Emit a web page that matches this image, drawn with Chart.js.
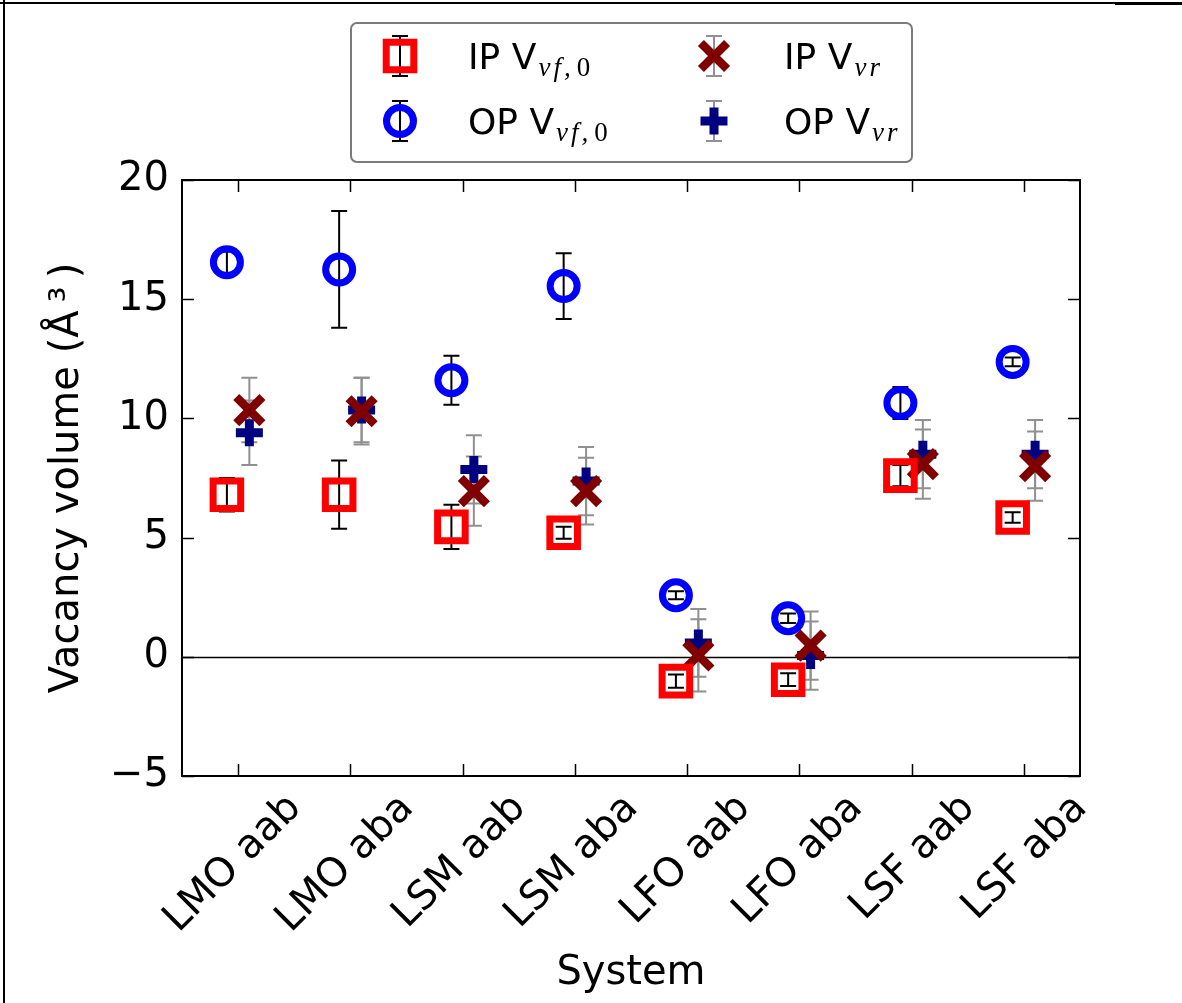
<!DOCTYPE html>
<html>
<head>
<meta charset="utf-8">
<title>Vacancy volume by system</title>
<script src="https://cdn.jsdelivr.net/npm/chart.js@4.4.1/dist/chart.umd.min.js"></script>
<style>
  html, body { margin: 0; padding: 0; background: #ffffff; }
  #wrap { width: 1182px; height: 1003px; position: relative; }
  canvas { display: block; }
</style>
</head>
<body>
<div id="wrap"><canvas id="c" width="1182" height="1003"></canvas></div>
<script>
// ---- data -------------------------------------------------------------
const categories = ['LMO aab', 'LMO aba', 'LSM aab', 'LSM aba', 'LFO aab', 'LFO aba', 'LSF aab', 'LSF aba'];

// in-plane / out-of-plane vacancy formation volume V_vf,0
const ipVf0    = [6.8, 6.8, 5.45, 5.2, -1.02, -0.96, 7.6, 5.84];
const ipVf0Err = [0.7, 1.43, 0.93, 0.25, 0.28, 0.27, 0.45, 0.22];
const opVf0    = [16.55, 16.25, 11.6, 15.55, 2.58, 1.62, 10.65, 12.37];
const opVf0Err = [0.45, 2.45, 1.03, 1.38, 0.17, 0.2, 0.67, 0.18];

// in-plane / out-of-plane relaxation volume V_vr
const ipVvr    = [10.35, 10.3, 6.95, 6.95, 0.06, 0.47, 8.08, 8.0];
const ipVvrErr = [1.35, 1.4, 1.45, 1.4, 1.52, 1.43, 1.45, 1.45];
const opVvr    = [9.4, 10.35, 7.86, 7.37, 0.58, 0.05, 8.5, 8.5];
const opVvrErr = [1.35, 1.35, 1.43, 1.43, 1.42, 1.43, 1.43, 1.43];

const yTicks = [-5, 0, 5, 10, 15, 20];

const seriesMain = ['IP V', 'OP V', 'IP V', 'OP V'];
const seriesSub  = ['vf,0', 'vf,0', 'vr', 'vr'];

// ---- drawing helpers ---------------------------------------------------
const FONT = '"DejaVu Sans", "Liberation Sans", sans-serif';
const errors = [ipVf0Err, opVf0Err, ipVvrErr, opVvrErr];
const errorColors = ['#000000', '#000000', '#909090', '#909090'];
const shift = [-0.1, -0.1, 0.1, 0.1];

function pts(values, k) {
  return values.map((v, i) => ({ x: i + shift[k], y: v }));
}

const styles = [
  { pointStyle: 'rect',     radius: 19.5, width: 7, color: '#ff0000' },
  { pointStyle: 'circle',   radius: 13.5, width: 7, color: '#0000ff' },
  { pointStyle: 'crossRot', radius: 18.5, width: 8.5, color: '#800000' },
  { pointStyle: 'cross',    radius: 13.5, width: 9, color: '#000080' }
];

function errorBar(ctx, px, yTop, yBot, color, capHalf) {
  ctx.save();
  ctx.strokeStyle = color;
  ctx.lineWidth = 2;
  ctx.beginPath();
  ctx.moveTo(px, yTop); ctx.lineTo(px, yBot);
  ctx.moveTo(px - capHalf, yTop); ctx.lineTo(px + capHalf, yTop);
  ctx.moveTo(px - capHalf, yBot); ctx.lineTo(px + capHalf, yBot);
  ctx.stroke();
  ctx.restore();
}

// error bars and the y = 0 reference line sit under the markers
const underlay = {
  id: 'underlay',
  beforeDatasetsDraw(chart) {
    const { ctx, chartArea: a, scales: { x, y } } = chart;
    ctx.save();
    ctx.strokeStyle = '#000';
    ctx.lineWidth = 1.5;
    const y0 = Math.round(y.getPixelForValue(0)) + 0.5;
    ctx.beginPath(); ctx.moveTo(a.left, y0); ctx.lineTo(a.right, y0); ctx.stroke();
    ctx.restore();
    chart.data.datasets.forEach((ds, k) => {
      ds.data.forEach((p, i) => {
        const e = errors[k][i];
        errorBar(ctx, x.getPixelForValue(p.x), y.getPixelForValue(p.y + e),
                 y.getPixelForValue(p.y - e), errorColors[k], 8);
      });
    });
  }
};

// axes box with inward ticks on all four sides
const frame = {
  id: 'frame',
  afterDatasetsDraw(chart) {
    const { ctx, chartArea: a, scales: { x, y } } = chart;
    ctx.save();
    ctx.strokeStyle = '#000';
    ctx.lineWidth = 2;
    ctx.strokeRect(a.left, a.top, a.right - a.left, a.bottom - a.top);
    ctx.lineWidth = 1.5;
    const L = 12;
    ctx.beginPath();
    categories.forEach((c, i) => {
      const px = Math.round(x.getPixelForValue(i)) + 0.5;
      ctx.moveTo(px, a.bottom); ctx.lineTo(px, a.bottom - L);
      ctx.moveTo(px, a.top); ctx.lineTo(px, a.top + L);
    });
    yTicks.forEach(v => {
      const py = Math.round(y.getPixelForValue(v)) + 0.5;
      ctx.moveTo(a.left, py); ctx.lineTo(a.left + L, py);
      ctx.moveTo(a.right, py); ctx.lineTo(a.right - L, py);
    });
    ctx.stroke();
    ctx.restore();
  }
};

// legend: marker with its error bar, label with math subscript
const legend = {
  id: 'mplLegend',
  afterDraw(chart) {
    const ctx = chart.ctx;
    ctx.save();
    // page edge lines
    ctx.strokeStyle = '#000';
    ctx.lineWidth = 2;
    ctx.beginPath();
    ctx.moveTo(0, 3); ctx.lineTo(1182, 3);
    ctx.moveTo(4, 0); ctx.lineTo(4, 1003);
    ctx.stroke();
    ctx.lineWidth = 3;
    ctx.beginPath(); ctx.moveTo(1115, 3.5); ctx.lineTo(1182, 3.5); ctx.stroke();

    // legend frame
    const bx = 351, by = 23, bw = 561, bh = 139, r = 6;
    ctx.beginPath();
    ctx.moveTo(bx + r, by);
    ctx.arcTo(bx + bw, by, bx + bw, by + bh, r);
    ctx.arcTo(bx + bw, by + bh, bx, by + bh, r);
    ctx.arcTo(bx, by + bh, bx, by, r);
    ctx.arcTo(bx, by, bx + bw, by, r);
    ctx.closePath();
    ctx.fillStyle = '#ffffff';
    ctx.fill();
    ctx.strokeStyle = '#7a7a7a';
    ctx.lineWidth = 2;
    ctx.stroke();

    const slots = [
      { mx: 400, my: 56, tx: 468 },
      { mx: 400, my: 121, tx: 468 },
      { mx: 714, my: 56, tx: 784 },
      { mx: 714, my: 121, tx: 784 }
    ];
    slots.forEach((s, k) => {
      errorBar(ctx, s.mx, s.my - 20, s.my + 20, errorColors[k], 8);
      const st = styles[k];
      ctx.save();
      ctx.strokeStyle = st.color;
      ctx.fillStyle = 'rgba(0,0,0,0)';
      ctx.lineWidth = st.width;
      Chart.helpers.drawPoint(ctx, { pointStyle: st.pointStyle, radius: st.radius, rotation: 0, borderWidth: st.width }, s.mx, s.my);
      ctx.restore();

      ctx.fillStyle = '#000';
      ctx.textBaseline = 'alphabetic';
      ctx.textAlign = 'left';
      ctx.font = '36px ' + FONT;
      const base = s.my + 13;
      ctx.fillText(seriesMain[k], s.tx, base);
      let sx = s.tx + ctx.measureText(seriesMain[k]).width + 2;
      const sub = seriesSub[k];
      const sb = base + 7;
      // italic letters, upright digits
      for (const ch of sub) {
        if (/[0-9]/.test(ch)) ctx.font = '27px "Liberation Serif", serif';
        else ctx.font = 'italic 27px "Liberation Serif", serif';
        ctx.fillText(ch, sx, sb);
        sx += ctx.measureText(ch).width + (ch === ',' ? 6 : 3);
      }
    });
    ctx.restore();
  }
};

const datasets = [ipVf0, opVf0, ipVvr, opVvr].map((vals, k) => ({
  label: seriesMain[k] + seriesSub[k],
  data: pts(vals, k),
  pointStyle: styles[k].pointStyle,
  pointRadius: styles[k].radius,
  pointHoverRadius: styles[k].radius,
  borderWidth: styles[k].width,
  pointBorderWidth: styles[k].width,
  pointHoverBorderWidth: styles[k].width,
  borderColor: styles[k].color,
  backgroundColor: 'rgba(0,0,0,0)',
  showLine: false
}));

new Chart(document.getElementById('c'), {
  type: 'scatter',
  data: { datasets },
  plugins: [underlay, frame, legend],
  options: {
    responsive: false,
    devicePixelRatio: 1,
    animation: false,
    events: [],
    layout: { padding: { top: 180, right: 102, left: 0, bottom: 0 } },
    plugins: { legend: { display: false }, tooltip: { enabled: false } },
    scales: {
      x: {
        type: 'linear',
        min: -0.5,
        max: 7.5,
        grid: { display: false, drawTicks: false },
        border: { display: false },
        afterBuildTicks: s => { s.ticks = categories.map((c, i) => ({ value: i })); },
        afterFit: s => { s.height = 227; },
        ticks: {
          autoSkip: false,
          minRotation: 45,
          maxRotation: 45,
          padding: 9,
          labelOffset: 57,
          color: '#000',
          font: { family: FONT, size: 40 },
          callback: v => categories[v]
        },
        title: {
          display: true,
          text: 'System',
          color: '#000',
          font: { family: FONT, size: 40 },
          padding: { top: 0, bottom: 5 }
        }
      },
      y: {
        min: -5,
        max: 20,
        grid: { display: false, drawTicks: false },
        border: { display: false },
        afterBuildTicks: s => { s.ticks = yTicks.map(v => ({ value: v })); },
        afterFit: s => { s.width = 182; },
        ticks: {
          padding: 13,
          color: '#000',
          font: { family: FONT, size: 40 },
          callback: v => (v < 0 ? '\u2212' + Math.abs(v) : String(v))
        },
        title: {
          display: true,
          text: 'Vacancy volume (\u00C5\u2009\u00B3\u2009)',
          color: '#000',
          font: { family: FONT, size: 40 },
          padding: { top: 44, bottom: 0 }
        }
      }
    }
  }
});
</script>
</body>
</html>
